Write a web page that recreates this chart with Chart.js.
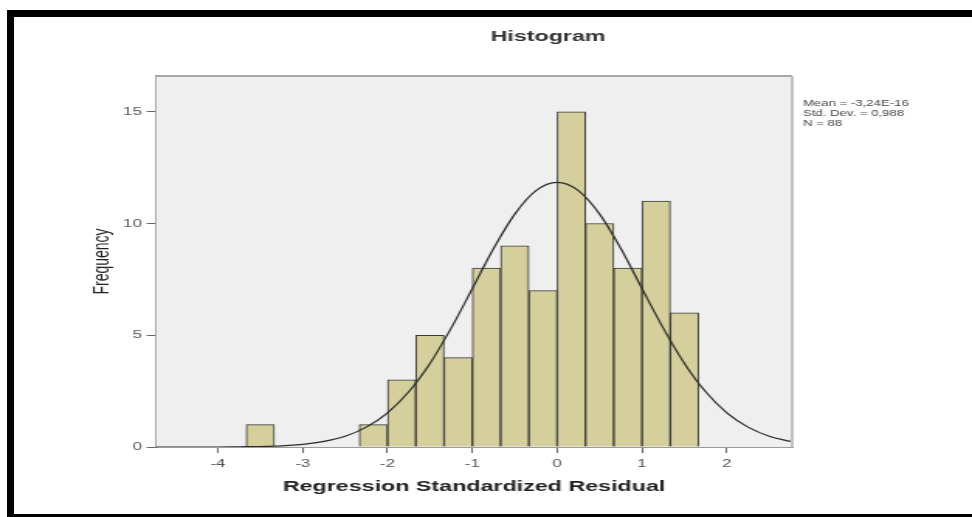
<!DOCTYPE html>
<html>
<head>
<meta charset="utf-8">
<title>Histogram</title>
<script src="https://cdn.jsdelivr.net/npm/chart.js@4.4.0/dist/chart.umd.min.js"></script>
<style>
  html, body { margin: 0; padding: 0; background: #fff; overflow: hidden; }
  #frame {
    position: absolute; left: 7px; top: 10px; width: 980px; height: 497px;
    border-top: 7px solid #000; border-left: 7px solid #000; border-bottom: 3px solid #000;
  }
  /* the source picture is stretched sideways, so the chart is drawn narrow and widened */
  #wrap {
    position: absolute; left: 0; top: 0; width: 627px; height: 517px;
    transform: scaleX(1.5502); transform-origin: 0 0;
  }
</style>
</head>
<body>
<div id="frame"></div>
<div id="wrap"><canvas id="histChart" width="627" height="517"></canvas></div>
<script>
// bins of width 1/3, lower edges
const binLow = [-11/3, -7/3, -2, -5/3, -4/3, -1, -2/3, -1/3, 0, 1/3, 2/3, 1, 4/3];
const binWidth = 1/3;
const frequency = [1, 1, 3, 5, 4, 8, 9, 7, 15, 10, 8, 11, 6];

// normal curve
const curveX = [-4.75, -4.5, -4.25, -4, -3.75, -3.5, -3.25, -3, -2.75, -2.5, -2.25, -2, -1.75, -1.5, -1.25, -1,
                -0.75, -0.5, -0.25, 0, 0.25, 0.5, 0.75, 1, 1.25, 1.5, 1.75, 2, 2.25, 2.5, 2.75];
const curveY = [0, 0, 0, 0, 0.01, 0.02, 0.05, 0.12, 0.25, 0.48, 0.89, 1.53, 2.47, 3.74, 5.32, 7.09,
                8.88, 10.42, 11.47, 11.84, 11.47, 10.42, 8.88, 7.09, 5.32, 3.74, 2.47, 1.53, 0.89, 0.48, 0.25];

const xTicks = [-4, -3, -2, -1, 0, 1, 2];
const yTicks = [0, 5, 10, 15];
const statsLines = ['Mean = -3,24E-16', 'Std. Dev. = 0,988', 'N = 88'];

const FONT = '"Liberation Sans", Arial, sans-serif';

const plotFrame = {
  id: 'plotFrame',
  beforeDatasetsDraw(chart) {
    const a = chart.chartArea, c = chart.ctx;
    c.save();
    c.fillStyle = '#efefef';
    c.fillRect(a.left, a.top, a.right - a.left, a.bottom - a.top);
    c.restore();
  },
  afterDatasetsDraw(chart) {
    const a = chart.chartArea, c = chart.ctx;
    c.save();
    c.strokeStyle = '#a8a8a8';
    c.lineWidth = 2;
    c.beginPath();
    c.moveTo(a.left, a.top);
    c.lineTo(a.right, a.top);
    c.stroke();
    c.strokeStyle = '#c2c2c2';
    c.beginPath();
    c.moveTo(a.right, a.top);
    c.lineTo(a.right, a.bottom);
    c.stroke();
    c.restore();
  },
  afterDraw(chart) {
    const c = chart.ctx;
    c.save();
    c.fillStyle = '#333';
    c.font = 'bold 15px ' + FONT;
    c.textAlign = 'center';
    c.textBaseline = 'middle';
    c.fillText('Histogram', 353.5, 37);
    c.fillStyle = '#444';
    c.font = '8.5px ' + FONT;
    c.textAlign = 'left';
    statsLines.forEach((s, i) => c.fillText(s, 518, 104 + i * 10));
    c.restore();
  }
};

const ctx = document.getElementById('histChart');
new Chart(ctx, {
  type: 'bar',
  data: {
    datasets: [
      {
        type: 'line',
        data: curveX.map((x, i) => ({ x: x, y: curveY[i] })),
        borderColor: '#2b2b2b',
        borderWidth: 1.2,
        pointRadius: 0,
        cubicInterpolationMode: 'monotone',
        order: 0
      },
      {
        type: 'bar',
        data: binLow.map((lo, i) => ({ x: lo + binWidth / 2, y: frequency[i] })),
        backgroundColor: '#d4cf9b',
        borderColor: '#3a3a3a',
        borderWidth: 1,
        barPercentage: 1,
        categoryPercentage: 1,
        order: 1
      }
    ]
  },
  options: {
    responsive: false,
    animation: false,
    devicePixelRatio: 1,
    layout: { padding: { left: 54, right: 116, top: 76, bottom: 17 } },
    plugins: { legend: { display: false }, tooltip: { enabled: false } },
    scales: {
      x: {
        type: 'linear',
        min: -4.73,
        max: 2.77,
        offset: false,
        afterBuildTicks: s => { s.ticks = xTicks.map(v => ({ value: v })); },
        afterFit: s => { s.height = 53; },
        grid: { offset: false, drawOnChartArea: false, drawTicks: true, tickLength: 6, tickColor: '#666' },
        border: { color: '#9a9a9a', width: 2 },
        ticks: { color: '#555', font: { family: FONT, size: 11 }, padding: 4, maxRotation: 0 },
        title: {
          display: true, text: 'Regression Standardized Residual', color: '#222',
          font: { family: FONT, size: 15, weight: 'bold' }, padding: { top: 4, bottom: 4 }
        }
      },
      y: {
        min: 0,
        max: 16.6,
        afterBuildTicks: s => { s.ticks = yTicks.map(v => ({ value: v })); },
        afterFit: s => { s.width = 46.6; },
        grid: { offset: false, drawOnChartArea: false, drawTicks: true, tickLength: 6, tickColor: '#666' },
        border: { color: '#777', width: 2 },
        ticks: { color: '#555', font: { family: FONT, size: 11 }, padding: 3 },
        title: {
          display: true, text: 'Frequency', color: '#222',
          font: { family: FONT, size: 14 }, padding: { top: 4, bottom: 4 }
        }
      }
    }
  },
  plugins: [plotFrame]
});
</script>
</body>
</html>
